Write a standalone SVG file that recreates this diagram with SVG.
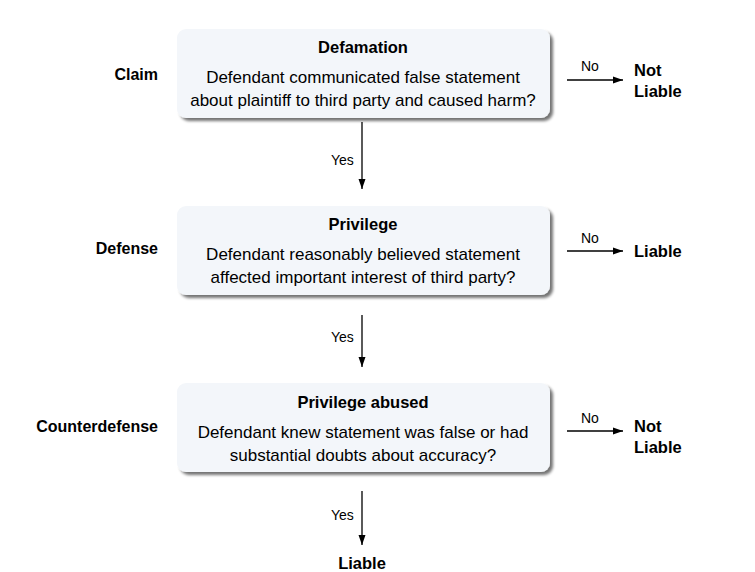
<svg xmlns="http://www.w3.org/2000/svg" width="755" height="572" viewBox="0 0 755 572">
<defs>
<marker id="ah" markerWidth="10" markerHeight="8" refX="10" refY="4" orient="auto" markerUnits="userSpaceOnUse">
<path d="M0,0.5 L10,4 L0,7.5 z" fill="#000"/>
</marker>
<filter id="sh" x="-5%" y="-10%" width="115%" height="130%">
<feGaussianBlur in="SourceAlpha" stdDeviation="1.5"/>
<feOffset dx="3" dy="3" result="b"/>
<feComponentTransfer><feFuncA type="linear" slope="0.55"/></feComponentTransfer>
<feMerge><feMergeNode/><feMergeNode in="SourceGraphic"/></feMerge>
</filter>
</defs>
<style>
text{font-family:"Liberation Sans",Arial,sans-serif;fill:#000}
.box{fill:#f3f6fa;filter:url(#sh)}
.t{font-size:16.5px;font-weight:bold;text-anchor:middle}
.b{font-size:17px;text-anchor:middle}
.side{font-size:16px;font-weight:bold;text-anchor:end}
.out{font-size:16.5px;font-weight:bold}
.lab{font-size:14px}
.c{stroke:#000;stroke-width:1.3;fill:none;marker-end:url(#ah)}
</style>
<rect width="755" height="572" fill="#fff"/>
<g id="n1">
<rect class="box" x="177" y="29" width="373" height="89" rx="9"/>
<text class="t" x="363" y="53">Defamation</text>
<text class="b" x="363" y="83">Defendant communicated false statement</text>
<text class="b" x="363" y="106">about plaintiff to third party and caused harm?</text>
</g>
<g id="n2">
<rect class="box" x="177" y="206" width="373" height="89" rx="9"/>
<text class="t" x="363" y="230">Privilege</text>
<text class="b" x="363" y="260">Defendant reasonably believed statement</text>
<text class="b" x="363" y="283">affected important interest of third party?</text>
</g>
<g id="n3">
<rect class="box" x="177" y="383" width="373" height="89" rx="9"/>
<text class="t" x="363" y="408">Privilege abused</text>
<text class="b" x="363" y="438">Defendant knew statement was false or had</text>
<text class="b" x="363" y="461">substantial doubts about accuracy?</text>
</g>
<g id="side">
<text class="side" x="158" y="80">Claim</text>
<text class="side" x="158" y="254">Defense</text>
<text class="side" x="158" y="432">Counterdefense</text>
</g>
<g id="out1"><text class="out" x="634" y="76">Not</text><text class="out" x="634" y="97">Liable</text></g>
<g id="out2"><text class="out" x="634" y="257">Liable</text></g>
<g id="out3"><text class="out" x="634" y="432">Not</text><text class="out" x="634" y="453">Liable</text></g>
<g id="out4"><text class="out" x="362" y="569" text-anchor="middle">Liable</text></g>
<g id="connectors">
<line class="c" x1="362" y1="122" x2="362" y2="189"/>
<line class="c" x1="362" y1="315" x2="362" y2="367"/>
<line class="c" x1="362" y1="491" x2="362" y2="545"/>
<line class="c" x1="567" y1="80" x2="623" y2="80"/>
<line class="c" x1="567" y1="251" x2="623" y2="251"/>
<line class="c" x1="567" y1="431" x2="623" y2="431"/>
<text class="lab" x="331" y="165">Yes</text>
<text class="lab" x="331" y="342">Yes</text>
<text class="lab" x="331" y="520">Yes</text>
<text class="lab" x="581" y="71">No</text>
<text class="lab" x="581" y="243">No</text>
<text class="lab" x="581" y="423">No</text>
</g>
</svg>
